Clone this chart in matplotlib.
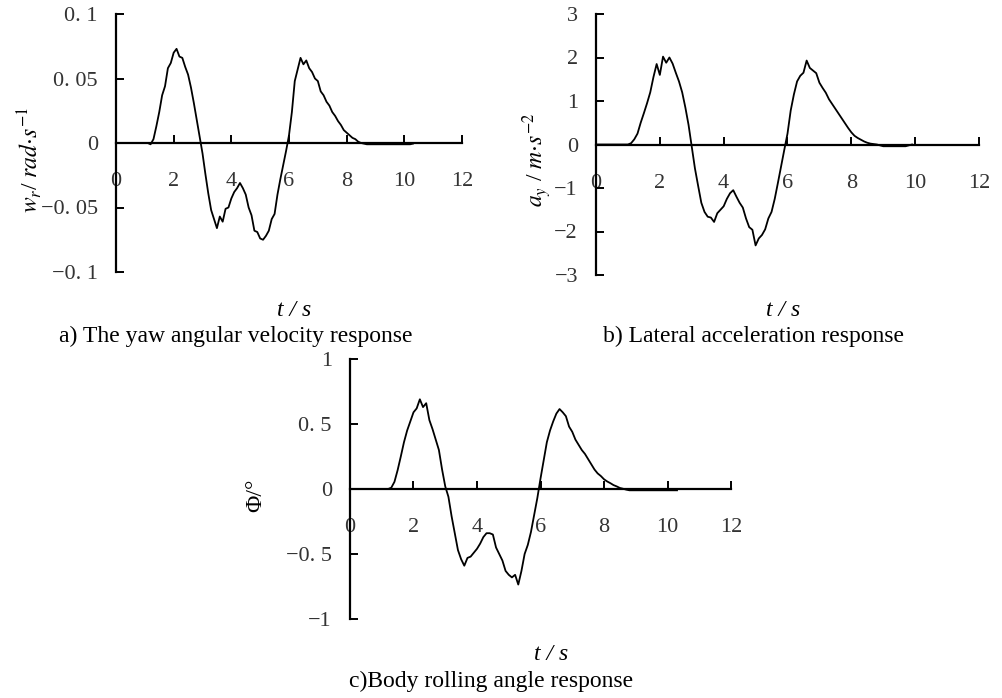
import numpy as np
import matplotlib
matplotlib.use('Agg')
import matplotlib.pyplot as plt

plt.rcParams['font.family'] = ['Liberation Serif', 'DejaVu Serif']
plt.rcParams['mathtext.fontset'] = 'stix'

dt = 0.1
wr = [0, 0, 0, 0, 0, 0, 0, 0, 0, 0, 0, 0,
      -0.001, 0.003, 0.013, 0.024, 0.037, 0.044, 0.058, 0.062, 0.070, 0.073,
      0.067, 0.066, 0.059, 0.053, 0.043, 0.031, 0.018, 0.005, -0.008, -0.024,
      -0.039, -0.052, -0.059, -0.066, -0.057, -0.061, -0.051, -0.050, -0.043, -0.038,
      -0.035, -0.031, -0.035, -0.040, -0.050, -0.056, -0.068, -0.069, -0.074, -0.075,
      -0.072, -0.068, -0.059, -0.055, -0.040, -0.028, -0.017, -0.006, 0.006, 0.024,
      0.048, 0.057, 0.066, 0.061, 0.064, 0.058, 0.055, 0.050, 0.048, 0.040,
      0.037, 0.032, 0.029, 0.024, 0.021, 0.017, 0.014, 0.010, 0.008, 0.006,
      0.004, 0.003, 0.001, 0.000, -0.0005,
      -0.001, -0.001, -0.001, -0.001, -0.001, -0.001, -0.001, -0.001,
      -0.001, -0.001, -0.001, -0.001, -0.001, -0.001, -0.001, -0.001, -0.0005]

ay = [0, 0, 0, 0, 0, 0, 0, 0, 0, 0, 0,
      0.03, 0.12, 0.25, 0.5, 0.72, 0.95, 1.2, 1.55, 1.85, 1.6,
      2.02, 1.88, 2.0, 1.86, 1.65, 1.45, 1.2, 0.85, 0.45, -0.05,
      -0.55, -0.95, -1.34, -1.55, -1.66, -1.68, -1.78, -1.58, -1.5, -1.42,
      -1.25, -1.12, -1.05, -1.2, -1.34, -1.45, -1.7, -1.9, -1.96, -2.32,
      -2.16, -2.08, -1.95, -1.7, -1.55, -1.25, -0.88, -0.5, -0.12, 0.25,
      0.78, 1.15, 1.45, 1.58, 1.65, 1.93, 1.76, 1.7, 1.64, 1.42,
      1.3, 1.19, 1.04, 0.93, 0.82, 0.71, 0.6, 0.49, 0.38, 0.28,
      0.2, 0.15, 0.11, 0.07, 0.04, 0.02, 0.01, 0.0, -0.02,
      -0.04, -0.04, -0.04, -0.04, -0.04, -0.04, -0.04, -0.04, -0.02, 0.0]

phi = [0, 0, 0, 0, 0, 0, 0, 0, 0, 0, 0, 0, 0,
       0.01, 0.055, 0.145, 0.25, 0.36, 0.45, 0.52, 0.59, 0.62, 0.69,
       0.63, 0.66, 0.53, 0.46, 0.38, 0.3, 0.15, 0.02, -0.06, -0.21,
       -0.34, -0.47, -0.54, -0.59, -0.53, -0.52, -0.49, -0.46, -0.42, -0.37,
       -0.34, -0.34, -0.35, -0.45, -0.5, -0.55, -0.63, -0.66, -0.68, -0.66,
       -0.735, -0.63, -0.5, -0.43, -0.33, -0.2, -0.07, 0.08, 0.22, 0.36,
       0.45, 0.52, 0.58, 0.615, 0.59, 0.56, 0.48, 0.44, 0.38, 0.34,
       0.3, 0.27, 0.23, 0.19, 0.15, 0.12, 0.1, 0.075, 0.058, 0.045,
       0.03, 0.02, 0.008, 0.002, -0.005,
       -0.01, -0.01, -0.01, -0.01, -0.01, -0.01, -0.01, -0.01,
       -0.01, -0.01, -0.01, -0.01, -0.01, -0.01, -0.01, -0.01]

xticks = [0, 2, 4, 6, 8, 10, 12]
wr_ticks = [-0.1, -0.05, 0, 0.05, 0.1]
wr_labels = ['\u22120. 1', '\u22120. 05', '0', '0. 05', '0. 1']
ay_ticks = [-3, -2, -1, 0, 1, 2, 3]
ay_labels = ['\u22123', '\u22122', '\u22121', '0', '1', '2', '3']
phi_ticks = [-1, -0.5, 0, 0.5, 1]
phi_labels = ['\u22121', '\u22120. 5', '0', '0. 5', '1']


def draw(ax, y, yticks, ylabels):
    t = np.arange(len(y)) * dt
    ax.plot(t, y, color='black', linewidth=1.3)
    ax.set_xlim(0, 12)
    ax.set_ylim(yticks[0], yticks[-1])
    ax.spines['top'].set_visible(False)
    ax.spines['right'].set_visible(False)
    ax.spines['bottom'].set_position(('data', 0))
    ax.spines['bottom'].set_linewidth(1.6)
    ax.spines['left'].set_linewidth(1.6)
    ax.set_xticks(xticks)
    ax.set_yticks(yticks)
    ax.set_yticklabels(ylabels)
    ax.tick_params(axis='x', direction='in', length=6, width=1.4, pad=21,
                   labelsize=16, labelcolor='#333333')
    ax.tick_params(axis='y', direction='in', length=6, width=1.4, pad=13,
                   labelsize=16, labelcolor='#333333')


f = plt.figure(figsize=(10.03, 6.98), dpi=100)
W, H = 1003.0, 698.0

#----a) yaw rate----
ax1 = f.add_axes([116 / W, 1 - 272 / H, 346 / W, 258 / H])
draw(ax1, wr, wr_ticks, wr_labels)
f.text(30 / W, 1 - 160 / H, r'$w_r$/ $rad{\cdot}s^{-1}$', rotation=90,
       ha='center', va='center', fontsize=17)
f.text(294 / W, 1 - 310 / H, 't / s', style='italic', ha='center', va='center', fontsize=17)
f.text(236 / W, 1 - 336 / H, 'a) The yaw angular velocity response',
       ha='center', va='center', fontsize=17)

#----b) lateral acceleration----
ax2 = f.add_axes([596 / W, 1 - 275 / H, 383 / W, 261 / H])
draw(ax2, ay, ay_ticks, ay_labels)
f.text(537 / W, 1 - 160 / H, r'$a_y$ / $m{\cdot}s^{-2}$', rotation=90,
       ha='center', va='center', fontsize=17)
f.text(783 / W, 1 - 310 / H, 't / s', style='italic', ha='center', va='center', fontsize=17)
f.text(754 / W, 1 - 336 / H, 'b) Lateral acceleration response',
       ha='center', va='center', fontsize=17)

#----c) roll angle----
ax3 = f.add_axes([350 / W, 1 - 619 / H, 381 / W, 260 / H])
draw(ax3, phi, phi_ticks, phi_labels)
f.text(256 / W, 1 - 495 / H, '\u03a6/\u00b0', rotation=90,
       ha='center', va='center', fontsize=17)
f.text(551 / W, 1 - 655 / H, 't / s', style='italic', ha='center', va='center', fontsize=17)
f.text(491 / W, 1 - 681 / H, 'c)Body rolling angle response',
       ha='center', va='center', fontsize=17)

f.savefig('out.png', dpi=100)
